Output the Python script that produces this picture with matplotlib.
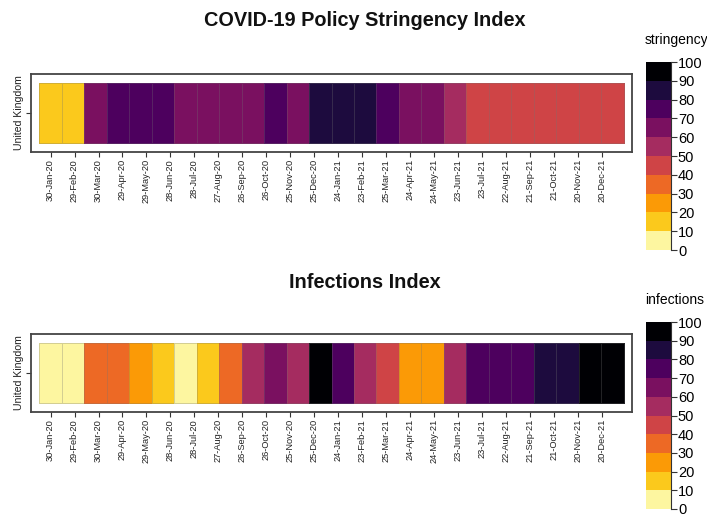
import numpy as np
import matplotlib
matplotlib.use("Agg")
import matplotlib.pyplot as plt
from matplotlib.colors import ListedColormap, BoundaryNorm
from matplotlib.cm import ScalarMappable
import pandas as pd

plt.rcParams['font.family'] = ['Liberation Sans', 'DejaVu Sans']

# ---------------- data ----------------
country = "United Kingdom"
stringency = [12, 12, 64, 76, 76, 74, 66, 65, 64, 66, 73, 67,
              86, 87, 85, 74, 64, 63, 54, 44, 43, 43, 42, 42, 44, 45]
infections = [5, 6, 35, 34, 25, 15, 5, 15, 35, 55, 65, 55,
              95, 75, 55, 45, 25, 26, 55, 75, 74, 76, 85, 86, 95, 96]
tick_labels = ["30-Jan-20", "29-Feb-20", "30-Mar-20", "29-Apr-20", "29-May-20",
               "28-Jun-20", "28-Jul-20", "27-Aug-20", "26-Sep-20", "26-Oct-20",
               "25-Nov-20", "25-Dec-20", "24-Jan-21", "23-Feb-21", "25-Mar-21",
               "24-Apr-21", "24-May-21", "23-Jun-21", "23-Jul-21", "22-Aug-21",
               "21-Sep-21", "21-Oct-21", "20-Nov-21", "20-Dec-21"]
levels = list(range(0, 101, 10))
palette = ["#FDF6A0", "#FBC91C", "#FB9A06", "#ED6925", "#CF4446",
           "#A52C60", "#7A1060", "#4D005E", "#1D0B3E", "#000004"]

cmap = ListedColormap(palette)
norm = BoundaryNorm(levels, cmap.N)

# tick positions in cell units (cell spacing ~28.125 days)
tick_dates = pd.to_datetime(tick_labels, format="%d-%b-%y")
tick_pos = (tick_dates - tick_dates[0]).days.values / 28.125

W, H = 707, 515
fig = plt.figure(figsize=(W / 100, H / 100), dpi=100)


def fx(px):
    return px / W


def fy(py):
    return 1 - py / H


def panel(top_px, values, title, title_y, cb_top, cb_bot, cb_title, cb_title_y):
    ax = fig.add_axes([fx(31), fy(top_px + 78), fx(632) - fx(31), 78 / H])
    n = len(values)
    xe = np.arange(n + 1) - 0.5
    ye = np.array([-0.5, 0.5])
    ax.pcolormesh(xe, ye, np.array(values)[None, :], cmap=cmap, norm=norm,
                  edgecolor=(0.45, 0.45, 0.45, 0.3), linewidth=0.6)
    ax.set_xlim(-0.87, n - 1 + 0.87)
    ax.set_ylim(-0.65, 0.65)
    ax.set_xticks(tick_pos)
    ax.set_xticklabels(tick_labels, rotation=90, fontsize=6.7, color="#222222")
    ax.set_yticks([0])
    ax.set_yticklabels([country], rotation=90, va="center", fontsize=7.6, color="#222222")
    ax.tick_params(axis="both", length=3.5, width=0.8, color="#333333", pad=1.5)
    for s in ax.spines.values():
        s.set_color("#444444")
        s.set_linewidth(1.3)
    fig.text(fx(365), fy(title_y), title, ha="center", va="center",
             fontsize=14.3, fontweight="bold", color="#111111")

    cax = fig.add_axes([fx(646), fy(cb_bot), fx(671) - fx(646), (cb_bot - cb_top) / H])
    cb = fig.colorbar(ScalarMappable(norm=norm, cmap=cmap), cax=cax, ticks=levels)
    cb.outline.set_visible(False)
    cax.tick_params(length=4, width=0.8, color="#333333", labelsize=10.5, pad=1)
    cax.plot([1, 1], [0, 100], color="#333333", lw=0.8, clip_on=False)
    fig.text(fx(645), fy(cb_title_y), cb_title, ha="left", va="center", fontsize=10)


panel(74, stringency, "COVID-19 Policy Stringency Index", 21, 62, 250, "stringency", 40)
panel(334, infections, "Infections Index", 282, 322, 509, "infections", 300)

fig.savefig("out.png", dpi=100)
